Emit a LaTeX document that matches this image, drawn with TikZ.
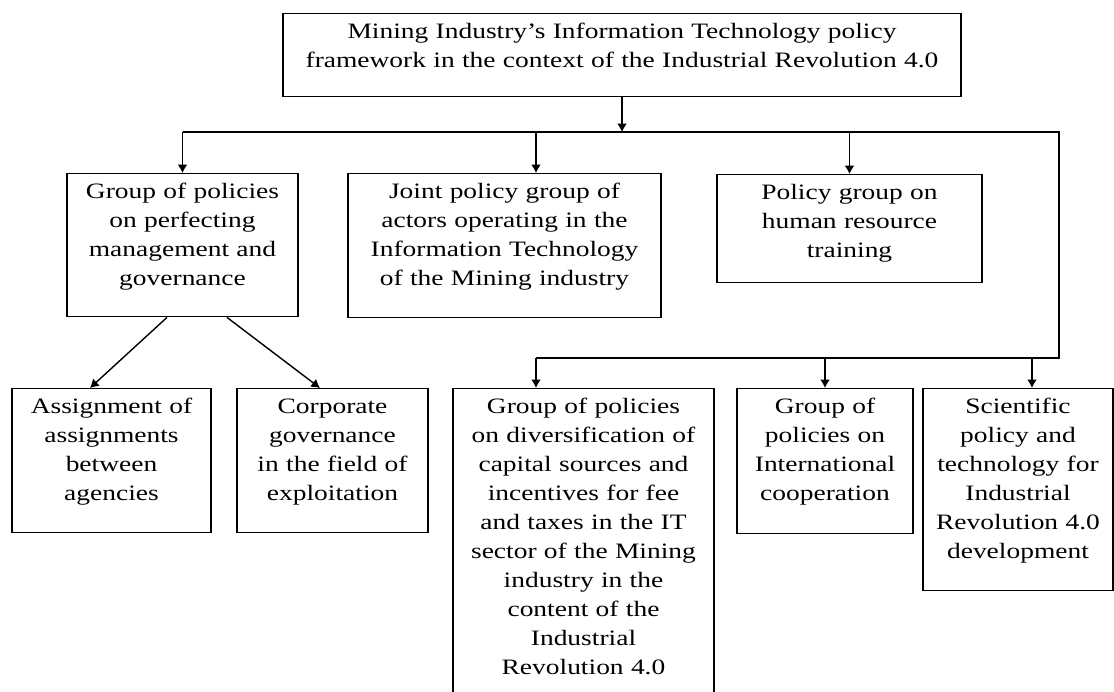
\documentclass[tikz,border=0pt]{standalone}
\usepackage{fontspec}
\setmainfont{Liberation Serif}[FakeStretch=1.25]
\usetikzlibrary{arrows.meta}

\tikzset{
    box/.style={draw, line width=0.8pt, align=center, anchor=north, inner sep=0pt,
      text height=0.5cm, font=\fontsize{12.5}{16.5}\selectfont},
    link/.style={line width=0.8pt, -{Latex[length=1.7mm, width=2mm]}},
    bus/.style={line width=0.8pt}
}

\begin{document}
\begin{tikzpicture}

    \useasboundingbox (0, 0) rectangle (22.28, -13.82);
    \clip (0, 0) rectangle (22.28, -13.82);

    \node [box, text width=13.56cm, text depth=1.16cm] (frame) at (12.44, -0.26)
      {Mining Industry's Information Technology policy\\framework in the context of the Industrial Revolution 4.0};

    \node [box, text width=4.62cm, text depth=2.36cm] (manage) at (3.65, -3.46)
      {Group of policies\\on perfecting\\management and\\governance};
    \node [box, text width=6.26cm, text depth=2.38cm] (joint) at (10.09, -3.46)
      {Joint policy group of\\actors operating in the\\Information Technology\\of the Mining industry};
    \node [box, text width=5.30cm, text depth=1.66cm] (human) at (16.99, -3.48)
      {Policy group on\\human resource\\training};

    \node [box, text width=3.98cm, text depth=2.38cm] (assign) at (2.23, -7.76)
      {Assignment of\\assignments\\between\\agencies};
    \node [box, text width=3.82cm, text depth=2.38cm] (corporate) at (6.65, -7.76)
      {Corporate\\governance\\in the field of\\exploitation};
    \node [box, text width=5.22cm, text depth=5.74cm] (capital) at (11.67, -7.76)
      {Group of policies\\on diversification of\\capital sources and\\incentives for fee\\and taxes in the IT\\sector of the Mining\\industry in the\\content of the\\Industrial\\Revolution 4.0};
    \node [box, text width=3.52cm, text depth=2.40cm] (intl) at (16.5, -7.76)
      {Group of\\policies on\\International\\cooperation};
    \node [box, text width=3.80cm, text depth=3.54cm] (science) at (20.36, -7.76)
      {Scientific\\policy and\\technology for\\Industrial\\Revolution 4.0\\development};

    \coordinate (bus1) at (frame.south |- 0, -2.64);
    \coordinate (corner1) at (21.18, -2.64);
    \coordinate (corner2) at (21.18, -7.16);
    \coordinate (bus2) at (10.72, -7.16);

    \draw [link] (frame.south) -- (bus1);
    \draw [bus] (manage.north |- bus1) -- (corner1) -- (corner2) -- (bus2);
    \draw [link] (manage.north |- bus1) -- (manage.north);
    \draw [link] (bus2 |- bus1) -- (bus2 |- joint.north);
    \draw [link] (human.north |- bus1) -- (human.north);

    \draw [link] ([xshift=-0.31cm]manage.south) -- ([xshift=-0.43cm]assign.north);
    \draw [link] ([xshift=0.89cm]manage.south) -- ([xshift=-0.25cm]corporate.north);

    \draw [link] (bus2) -- (bus2 |- capital.north);
    \draw [link] (intl.north |- bus2) -- (intl.north);
    \draw [link] ([xshift=0.28cm]science.north |- bus2) -- ([xshift=0.28cm]science.north);

\end{tikzpicture}
\end{document}
